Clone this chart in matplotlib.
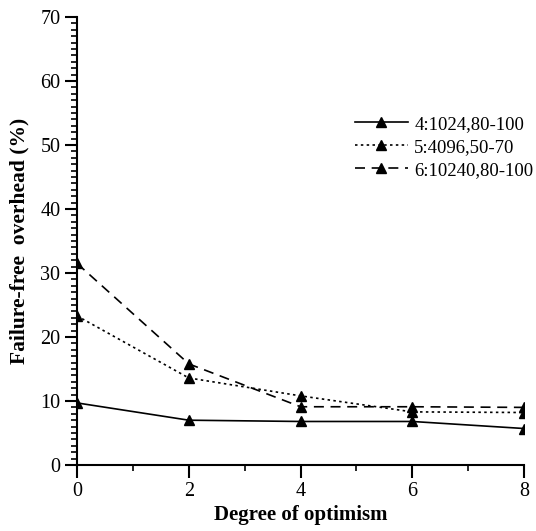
import matplotlib.pyplot as plt
from matplotlib.ticker import MultipleLocator

plt.rcParams['font.family'] = ['Liberation Serif', 'DejaVu Serif']

x = [0, 2, 4, 6, 8]
s1 = [9.7, 7.0, 6.8, 6.8, 5.7]
s2 = [23.3, 13.6, 10.8, 8.3, 8.2]
s3 = [31.5, 15.8, 9.1, 9.1, 9.0]
labels = ['4:1024,80-100', '5:4096,50-70', '6:10240,80-100']

fig = plt.figure(figsize=(5.36, 5.31), dpi=100)
ax = fig.add_axes([0.1437, 0.1243, 0.834, 0.8437])

kw = dict(color='black', marker='^', markersize=7.5, linewidth=1.2)
ax.plot(x, s1, linestyle='-', label=labels[0], **kw)
ax.plot(x, s2, linestyle=(0, (1.5, 2)), label=labels[1], **kw)
ax.plot(x, s3, linestyle=(0, (6, 4)), label=labels[2], **kw)

ax.set_xlim(0, 8)
ax.set_ylim(0, 70)
ax.xaxis.set_major_locator(MultipleLocator(2))
ax.xaxis.set_minor_locator(MultipleLocator(1))
ax.yaxis.set_major_locator(MultipleLocator(10))
ax.yaxis.set_minor_locator(MultipleLocator(1))
ax.spines['top'].set_visible(False)
ax.spines['right'].set_visible(False)
for sp in ['left', 'bottom']:
    ax.spines[sp].set_linewidth(1.5)
ax.tick_params(which='major', length=9, width=1.5, labelsize=14.5, pad=3)
ax.tick_params(which='minor', length=4.5, width=1.2)

ax.set_xlabel('Degree of optimism', fontsize=15, fontweight='bold', labelpad=3)
ax.set_ylabel('Failure-free  overhead (%)', fontsize=15.5, fontweight='bold', labelpad=8)

ax.legend(loc='upper left', bbox_to_anchor=(0.622, 0.78), frameon=False,
          fontsize=13.5, handlelength=2.8, labelspacing=0.32, handletextpad=0.35,
          borderpad=0, borderaxespad=0)

fig.savefig('out.png', dpi=100)
